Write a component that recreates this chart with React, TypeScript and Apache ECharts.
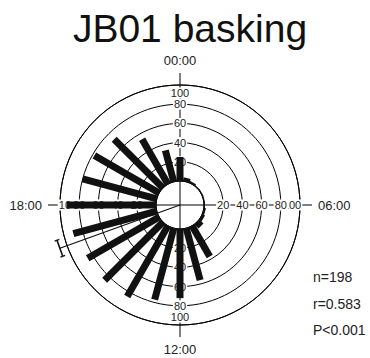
import React, { useEffect, useRef } from 'react';
import * as echarts from 'echarts';

// ---- data ----
const titleText = 'JB01 basking';
const hours = [0, 1, 2, 3, 4, 5, 6, 7, 8, 9, 10, 11, 12, 13, 14, 15, 16, 17, 18, 19, 20, 21, 22, 23];
const values = [25, 4, 2, 1, 1, 1, 1, 2, 3, 6, 37, 56, 72, 77, 85, 86, 86, 90, 93, 80, 78, 72, 54, 34];
const radiusTicks = [20, 40, 60, 80, 100];
const axisDirections = [0, 6, 12, 18];
const hourLabels = ['00:00', '06:00', '12:00', '18:00'];
const meanHour = [16.68];
const meanLength = [108];
const statsLines = ['n=198', 'r=0.583', 'P<0.001'];

const FONT = '"Liberation Sans", Arial, Helvetica, sans-serif';
const RMAX = 100;

export default function App() {
  const ref = useRef<HTMLDivElement>(null);
  useEffect(() => {
    document.body.style.margin = '0';
    const chart = echarts.init(ref.current!, null, { renderer: 'svg' });

    const axesSeries = {
      type: 'custom',
      coordinateSystem: 'polar',
      polarIndex: 0,
      clip: false,
      silent: true,
      z: 1,
      data: axisDirections.map((h) => [RMAX, h]),
      renderItem: (params: any, api: any) => {
        const cs = params.coordSys;
        const end = api.coord([RMAX, api.value(1)]);
        return {
          type: 'line',
          shape: { x1: cs.cx, y1: cs.cy, x2: end[0], y2: end[1] },
          style: { stroke: '#000', lineWidth: 1 },
        };
      },
    };

    const barSeries = {
      type: 'custom',
      coordinateSystem: 'polar',
      polarIndex: 0,
      clip: false,
      z: 3,
      data: hours.map((h, i) => [values[i], h]),
      renderItem: (params: any, api: any) => {
        const cs = params.coordSys;
        const cx = cs.cx, cy = cs.cy;
        const v = api.value(0), h = api.value(1);
        const p0 = api.coord([0, h]);
        const p1 = api.coord([v, h]);
        const dx = p0[0] - cx, dy = p0[1] - cy, L = Math.hypot(dx, dy);
        const nx = -dy / L, ny = dx / L;
        const w = 3.5;
        return {
          type: 'polygon',
          shape: {
            points: [
              [p0[0] + nx * w, p0[1] + ny * w],
              [p1[0] + nx * w, p1[1] + ny * w],
              [p1[0] - nx * w, p1[1] - ny * w],
              [p0[0] - nx * w, p0[1] - ny * w],
            ],
          },
          style: { fill: '#111' },
        };
      },
    };

    const meanSeries = {
      type: 'custom',
      coordinateSystem: 'polar',
      polarIndex: 0,
      clip: false,
      z: 4,
      data: meanHour.map((h, i) => [meanLength[i], h]),
      renderItem: (params: any, api: any) => {
        const cs = params.coordSys;
        const cx = cs.cx, cy = cs.cy;
        const p = api.coord([api.value(0), api.value(1)]);
        const dx = p[0] - cx, dy = p[1] - cy, L = Math.hypot(dx, dy);
        const ux = dx / L, uy = dy / L;
        const nx = -uy, ny = ux;
        const hw = 8.5, cap = 2.5;
        const a = [p[0] + nx * hw, p[1] + ny * hw];
        const b = [p[0] - nx * hw, p[1] - ny * hw];
        const st = { stroke: '#111', lineWidth: 1.3 };
        return {
          type: 'group',
          children: [
            { type: 'line', shape: { x1: cx, y1: cy, x2: p[0], y2: p[1] }, style: st },
            { type: 'line', shape: { x1: a[0], y1: a[1], x2: b[0], y2: b[1] }, style: { stroke: '#111', lineWidth: 1.6 } },
            { type: 'line', shape: { x1: a[0] - ux * cap, y1: a[1] - uy * cap, x2: a[0] + ux * cap, y2: a[1] + uy * cap }, style: st },
            { type: 'line', shape: { x1: b[0] - ux * cap, y1: b[1] - uy * cap, x2: b[0] + ux * cap, y2: b[1] + uy * cap }, style: st },
          ],
        };
      },
    };

    const option: any = {
      animation: false,
      polar: { center: [180, 205], radius: [24, 120] },
      angleAxis: {
        type: 'value',
        min: 0,
        max: 24,
        interval: 6,
        startAngle: 90,
        clockwise: true,
        axisLine: { show: true, lineStyle: { color: '#000', width: 1 } },
        axisTick: { show: true, inside: false, length: 12, lineStyle: { color: '#000', width: 1 } },
        axisLabel: {
          show: true,
          margin: 18,
          fontSize: 13,
          color: '#222',
          fontFamily: FONT,
          formatter: (v: number) => (v >= 24 ? '' : hourLabels[axisDirections.indexOf(v)] ?? ''),
        },
        splitLine: { show: false },
      },
      radiusAxis: {
        type: 'value',
        min: 0,
        max: RMAX,
        interval: 20,
        axisLine: { show: false },
        axisTick: { show: false },
        axisLabel: { show: false },
        splitLine: { show: true, lineStyle: { color: '#000', width: 1 } },
      },
      series: [axesSeries, barSeries, meanSeries],
    };
    chart.setOption(option);

    // radius tick labels along the four axis directions, positioned through the polar scale
    const graphics: any[] = [
      {
        type: 'text',
        x: 190,
        y: 28,
        z: 10,
        style: { text: titleText, fontSize: 39, fontFamily: FONT, fill: '#111', align: 'center', verticalAlign: 'middle' },
      },
      ...statsLines.map((s, i) => ({
        type: 'text',
        x: 313,
        y: 277 + i * 26.5,
        z: 10,
        style: { text: s, fontSize: 14, fontFamily: FONT, fill: '#222', align: 'left', verticalAlign: 'middle' },
      })),
    ];
    const ticksDesc = [...radiusTicks].reverse();
    for (const h of axisDirections) {
      for (const t of ticksDesc) {
        let p = chart.convertToPixel({ polarIndex: 0 } as any, [t, h]) as any;
        if (!p) continue;
        if (t === RMAX) {
          const q = chart.convertToPixel({ polarIndex: 0 } as any, [radiusTicks[radiusTicks.length - 2], h]) as any;
          const dx = p[0] - q[0], dy = p[1] - q[1], L = Math.hypot(dx, dy);
          p = [p[0] - (dx / L) * 8, p[1] - (dy / L) * 8];
        }
        const s = String(t);
        const w = s.length * 6.2 + 2;
        const hgt = 11;
        graphics.push({
          type: 'rect',
          z: 2,
          silent: true,
          shape: { x: p[0] - w / 2, y: p[1] - hgt / 2, width: w, height: hgt },
          style: { fill: '#fff' },
        });
        graphics.push({
          type: 'text',
          z: 2,
          silent: true,
          x: p[0],
          y: p[1],
          style: { text: s, fill: '#222', fontSize: 11, fontFamily: FONT, align: 'center', verticalAlign: 'middle' },
        });
      }
    }
    chart.setOption({ graphic: graphics });
    return () => chart.dispose();
  }, []);
  return <div ref={ref} style={{ width: 370, height: 358 }} />;
}
